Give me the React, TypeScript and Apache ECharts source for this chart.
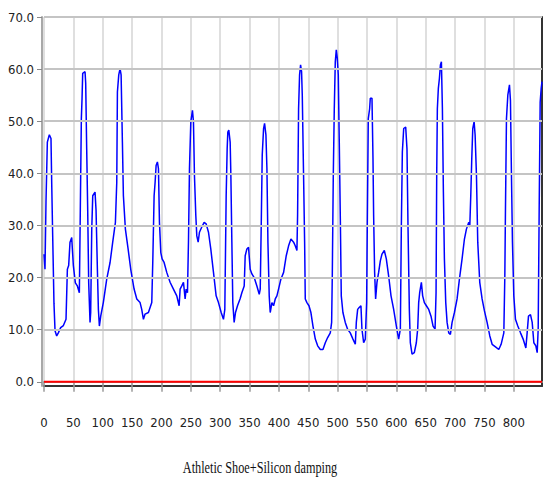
import React, { useEffect, useRef } from "react";
import * as echarts from "echarts";

const xs: number[] = [
  0, 1.7, 3.4, 5.7, 9.1, 11.9, 13.1, 14.8, 17, 18.8, 21.6, 24.4, 28.4, 33, 37.5, 39.8, 42, 44.3, 47.2, 48.3,
  50, 53.4, 56.8, 60.2, 61.9, 63.6, 64.8, 65.9, 69.9, 71, 72.7, 74.4, 76.1, 78.4, 79.5, 81.3, 83, 86.9, 88.6, 90.9,
  92.6, 94.3, 96.6, 101, 106.8, 112.5, 117, 121.6, 123.9, 125, 127.3, 129.5, 131.3, 133.5, 135.2, 138.6, 143.2, 147.7, 153.4, 158,
  163.6, 166.4, 169.3, 172.1, 177.8, 183.5, 185.2, 187.5, 189.2, 190.9, 193.1, 194.9, 196.6, 198.9, 201.1, 204.5, 209, 214.7, 220.4, 226.1,
  230.1, 231.8, 234.6, 237.5, 240.3, 242, 244.3, 246, 247.7, 250, 252.8, 254.5, 256.2, 258.5, 260.2, 262.5, 264.7, 268.7, 272.7, 276.1,
  280.1, 284, 288.6, 293.1, 297.1, 301.7, 305.6, 307.9, 310.2, 311.9, 313, 314.7, 317, 318.2, 319.9, 321.5, 323.8, 326.1, 329.5, 334.1,
  336.9, 340.9, 342.6, 345.5, 348.3, 351.1, 354, 357.9, 362.5, 366.5, 368.2, 369.9, 371.6, 373.9, 375.6, 377.9, 379.6, 381.3, 383.5, 385.2,
  388.1, 390.9, 393.8, 396.6, 399.4, 403.4, 408, 412.5, 416.5, 420.5, 425, 427.8, 430.7, 431.8, 433.5, 435.2, 436.9, 438.6, 439.8, 442,
  443.8, 444.9, 447.7, 451.2, 454.5, 458, 462, 466, 470.5, 475, 479, 483, 487.5, 489.8, 490.9, 492.6, 494.3, 496, 497.7, 499.4,
  501.1, 502.8, 504.6, 506.2, 509, 513, 517, 521.5, 526.1, 530.1, 531.8, 534.1, 536.3, 539.7, 541.4, 544.3, 547.1, 549.4, 550.5, 552.2,
  554.5, 555.6, 558.5, 560.2, 561.3, 563, 564.7, 567, 569.8, 572.7, 575.5, 579.5, 582.9, 586.9, 590.9, 595.4, 600, 603.9, 606.8, 608.5,
  610.2, 612.5, 615.9, 618.1, 619.8, 622.1, 623.8, 626.7, 630.6, 634, 636.3, 638, 639.7, 642.6, 644.8, 647.7, 651.1, 655.1, 659, 662.5,
  665.9, 667.6, 668.7, 669.8, 671.5, 673.3, 675, 676.7, 678.4, 680.1, 681.8, 684.1, 686.4, 689.2, 692, 694.9, 698.9, 703.4, 707.4, 711.9,
  715.9, 719.3, 723.3, 725, 726.7, 728.4, 730.1, 732.4, 734.1, 736.4, 738.6, 742, 746, 750, 754.5, 759.1, 763.1, 768.8, 774.4, 778.4,
  783, 784.7, 785.8, 787.5, 789.8, 792.6, 794.3, 796, 797.7, 800, 802.8, 806.8, 811.4, 815.9, 820.5, 822.7, 825, 828.4, 831.3, 834.1,
  837.5, 839.8, 841.5, 843.2, 844.9, 846.6, 848,
];

const ys: number[] = [
  24.5, 21.6, 34.5, 46, 47.4, 46.7, 38.3, 28, 15, 9.8, 8.8, 9.4, 10.4, 10.8, 12, 21.6, 22.3, 26.8, 27.7, 25.5,
  22.3, 19, 18.4, 17.1, 33.8, 50.5, 54.4, 59.2, 59.5, 57.3, 44.7, 33, 19, 11.4, 13.3, 29.3, 35.7, 36.4, 33, 21.6,
  13.9, 10.7, 12.6, 15.2, 19.7, 22.9, 26.8, 30.6, 38.3, 55.6, 58.9, 60.1, 58.9, 46, 35.7, 29.3, 25.5, 21.6, 17.8, 15.9,
  15.2, 13.9, 12, 13, 13.3, 15.2, 22.9, 35.7, 38.3, 41.5, 42.2, 40.9, 30.6, 24.8, 23.6, 22.9, 21, 19.1, 17.8, 16.5,
  14.6, 17.8, 18.4, 19.1, 15.9, 17.8, 17.1, 26.8, 40.9, 49.9, 52.1, 49.9, 39.6, 31.9, 28, 26.8, 28.7, 29.7, 30.6, 30.3,
  28.7, 25.5, 21, 16.5, 15.2, 13.3, 12, 13.9, 35.7, 44.7, 47.9, 48.3, 46, 39.6, 26.8, 15.2, 11.4, 13.3, 14.6, 16,
  17.1, 18.4, 24.2, 25.5, 25.8, 21.6, 20.7, 20, 18.4, 16.8, 17.8, 30, 43.5, 48.6, 49.6, 47.4, 40.9, 26.8, 16.5, 13.3,
  15.2, 14.6, 15.9, 16.5, 17.8, 19.7, 21, 24.2, 26.1, 27.4, 26.8, 26.1, 25.2, 31.9, 52.4, 58.9, 60.8, 59.5, 55, 39.6,
  26.8, 15.9, 15.2, 14.6, 13.3, 10.7, 8.2, 6.9, 6.2, 6.2, 7.5, 8.5, 9.4, 11.4, 20.3, 39.6, 52.4, 61.4, 63.7, 62.1,
  58.9, 46, 31.3, 16.5, 13.3, 11.4, 10.1, 9.4, 8.2, 7.2, 11.4, 13.9, 14.2, 14.6, 10.1, 7.5, 8.2, 15.2, 30, 50.5,
  52.4, 54.4, 54.4, 42.8, 31.9, 21, 15.9, 19.1, 21, 23.2, 24.5, 25.2, 23.6, 20.3, 16.5, 13.9, 10.7, 8.2, 10.1, 30,
  44.1, 48.6, 48.9, 44.7, 30, 13.9, 7.5, 5.3, 5.6, 7.5, 10.1, 15.2, 17.1, 19.1, 16.5, 15.2, 14.6, 13.9, 12.6, 10.7,
  10.1, 17.1, 39.6, 52.4, 56.3, 58.2, 60.8, 61.4, 52.4, 36.4, 23.6, 15.2, 11.4, 9.4, 9.1, 11.4, 13.3, 15.9, 19.7, 23.6,
  27.4, 29.3, 30.6, 29.7, 35.7, 42.8, 48.6, 49.9, 47.4, 39.6, 26.8, 19.1, 15.9, 13.6, 11.4, 8.8, 7.2, 6.7, 6.2, 7.2,
  9.4, 20.3, 33.2, 50.5, 55, 57, 53.9, 39.6, 26.8, 16.5, 12, 10.7, 9.4, 8.2, 6.5, 9.4, 12.6, 12.9, 11.4, 7.5,
  6.9, 5.6, 10.1, 33.2, 53.7, 56.3, 57.6,
];

const yTicks: number[] = [0, 10, 20, 30, 40, 50, 60, 70];
const gridLevels: number[] = [10, 20, 30, 40, 50, 60, 70];
const xMin = 0;
const xMax = 848;
const yMin = -0.8;
const yMax = 70;
const titleText = "Athletic Shoe+Silicon damping";

const narrow = "'Liberation Sans Narrow', 'DejaVu Sans Condensed', 'Arial Narrow', 'Liberation Sans', sans-serif";

export default function App() {
  const ref = useRef<HTMLDivElement>(null);
  useEffect(() => {
    if (!ref.current) return;
    const chart = echarts.init(ref.current, null, { renderer: "svg" });
    const blue = xs.map((x, i) => [x, ys[i]]);
    chart.setOption({
      animation: false,
      backgroundColor: "#ffffff",
      grid: { left: 44, right: 2, top: 17, bottom: 101, containLabel: false },
      graphic: [
        {
          type: "text",
          x: 260,
          y: 467,
          scaleX: 0.72,
          scaleY: 1,
          style: {
            text: titleText,
            fontFamily: "'Liberation Serif', 'DejaVu Serif', serif",
            fontSize: 17,
            fill: "#111",
            align: "center",
            verticalAlign: "middle",
          },
        },
      ],
      xAxis: [
        {
          type: "value",
          min: xMin,
          max: xMax,
          interval: 50,
          position: "bottom",
          offset: 11,
          axisLine: { show: true, lineStyle: { color: "#9a9a9a", width: 2 } },
          axisTick: { show: true, inside: false, length: 10, lineStyle: { color: "#9a9a9a", width: 1.5 } },
          axisLabel: { margin: 19, fontSize: 13, color: "#222", fontFamily: narrow, showMaxLabel: false },
          splitLine: { show: true, lineStyle: { color: "#d4d4d4", width: 1.5 } },
        },
        {
          type: "value",
          min: xMin,
          max: xMax,
          position: "bottom",
          offset: 0,
          axisLine: { show: true, onZero: false, lineStyle: { color: "#333", width: 2 } },
          axisTick: { show: false },
          axisLabel: { show: false },
          splitLine: { show: false },
        },
      ],
      yAxis: [
        {
          type: "value",
          min: yMin,
          max: yMax,
          position: "left",
          offset: 2,
          axisLine: { show: true, onZero: false, lineStyle: { color: "#a8a8a8", width: 2 } },
          axisTick: { show: true, length: 5, customValues: yTicks, lineStyle: { color: "#888", width: 1 } },
          axisLabel: {
            customValues: yTicks,
            margin: 8,
            fontSize: 13,
            color: "#222",
            fontFamily: narrow,
            formatter: (v: number) => v.toFixed(1),
          },
          splitLine: { show: false },
        },
        {
          type: "value",
          min: yMin,
          max: yMax,
          position: "right",
          offset: 0,
          axisLine: { show: true, onZero: false, lineStyle: { color: "#333", width: 2 } },
          axisTick: { show: false },
          axisLabel: { show: false },
          splitLine: { show: false },
        },
      ],
      series: [
        {
          type: "line",
          name: "zero",
          xAxisIndex: 0,
          yAxisIndex: 0,
          data: [[xMin, 0], [xMax, 0]],
          symbol: "none",
          lineStyle: { color: "#ff0000", width: 2 },
          z: 2,
          markLine: {
            silent: true,
            symbol: "none",
            label: { show: false },
            lineStyle: { color: "#c4c4c4", width: 2, type: "solid" },
            data: gridLevels.map((v) => ({ yAxis: v })),
          },
        },
        {
          type: "line",
          name: "signal",
          xAxisIndex: 0,
          yAxisIndex: 0,
          data: blue,
          symbol: "none",
          lineStyle: { color: "#0000ff", width: 1.5 },
          z: 3,
        },
      ],
    });
    return () => chart.dispose();
  }, []);
  return (
    <div
      ref={ref}
      style={{ position: "absolute", left: 0, top: 0, width: 544, height: 487, background: "#fff" }}
    />
  );
}
